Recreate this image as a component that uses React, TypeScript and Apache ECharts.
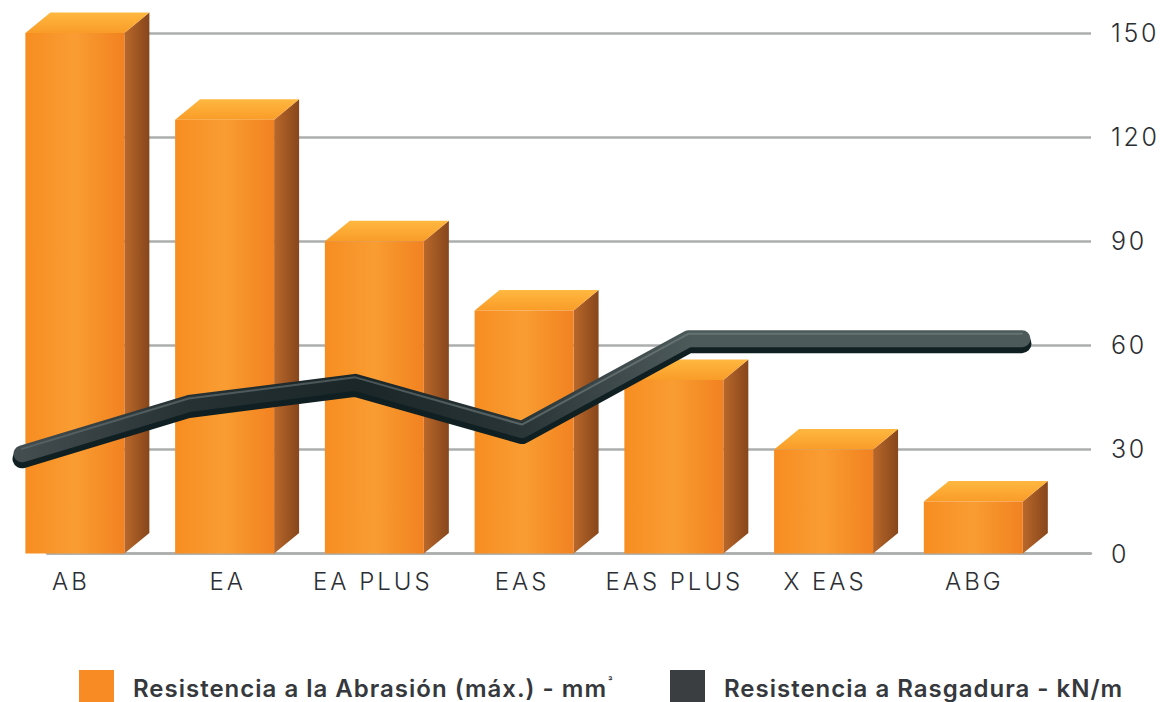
import React, { useEffect, useRef } from "react";
import * as echarts from "echarts";

const categories = ["AB", "EA", "EA PLUS", "EAS", "EAS PLUS", "X EAS", "ABG"];
const abrasion = [150, 125, 90, 70, 50, 30, 15];
const tear = [28, 42.5, 48.6, 35, 61.2, 61.2, 61.2];
const yTicks = { min: 0, max: 150, interval: 30 };
const abrasionName = "Resistencia a la Abrasión (máx.) - mm";
const tearName = "Resistencia a Rasgadura - kN/m";
const labelShift = [-4, 3, -1.5, -2, 0.5, 1.5, 1];

const TOP = 33;
const HEIGHT = 520.5;
const DX = 25;
const DY = 20.5;
const font = "Inter";

const grad = (x2: number, y2: number, stops: [number, string][]) => ({
  type: "linear",
  x: 0,
  y: 0,
  x2,
  y2,
  colorStops: stops.map(([offset, color]) => ({ offset, color })),
});

const globalGrad = (stops: [number, string][]) => ({
  type: "linear",
  global: true,
  x: 22,
  y: 0,
  x2: 1022,
  y2: 0,
  colorStops: stops.map(([offset, color]) => ({ offset, color })),
});

function renderBar(params: any, api: any) {
  const i = api.value(0);
  const top = api.coord([i, api.value(1)]);
  const base = api.coord([i, 0]);
  const w = api.size([1, 0])[0] * 0.661;
  const l = top[0] - w / 2;
  const r = top[0] + w / 2;
  return {
    type: "group",
    children: [
      {
        type: "polygon",
        shape: { points: [[r, top[1]], [r + DX, top[1] - DY], [r + DX, base[1] - DY], [r, base[1]]] },
        style: { fill: grad(1, 0, [[0, "#B9682A"], [1, "#87461B"]]) },
      },
      {
        type: "polygon",
        shape: { points: [[l, top[1]], [l + DX, top[1] - DY], [r + DX, top[1] - DY], [r, top[1]]] },
        style: { fill: grad(0, 1, [[0, "#FFB840"], [1, "#F99C28"]]) },
      },
      {
        type: "rect",
        shape: { x: l, y: top[1], width: w, height: base[1] - top[1] },
        style: { fill: grad(1, 0, [[0, "#F78D21"], [0.5, "#F99D33"], [0.75, "#F58F27"], [1, "#F28222"]]) },
      },
    ],
  };
}

function renderLine(params: any, api: any) {
  if (params.dataIndex !== 0) return null;
  const pts = tear.map((v, i) => api.coord([i, v]));
  const off = (d: number) => pts.map((p: number[]) => [p[0], p[1] + d]);
  const base = { lineCap: "round", lineJoin: "round", fill: "none" };
  return {
    type: "group",
    children: [
      {
        type: "polyline",
        shape: { points: off(2.5) },
        style: { ...base, stroke: "#0F1F22", lineWidth: 19 },
      },
      {
        type: "polyline",
        shape: { points: off(-2.5) },
        style: {
          ...base,
          lineWidth: 17,
          stroke: globalGrad([[0, "#434C4E"], [0.17, "#263133"], [0.34, "#1B2628"], [0.5, "#2A3537"], [0.67, "#4D5A5A"], [1, "#4D5A5A"]]),
        },
      },
      {
        type: "polyline",
        shape: { points: off(-7.5) },
        style: {
          ...base,
          lineWidth: 2,
          stroke: globalGrad([[0, "#566163"], [0.34, "#4A5557"], [0.67, "#667171"], [1, "#667171"]]),
        },
      },
    ],
  };
}

export default function App() {
  const ref = useRef<HTMLDivElement>(null);
  useEffect(() => {
    const chart = echarts.init(ref.current!, null, { renderer: "svg" });
    const hiddenY = (gridIndex: number) => ({
      type: "value",
      gridIndex,
      ...yTicks,
      show: false,
    });
    const rich: any = {};
    labelShift.forEach((s, i) => {
      rich["s" + i] = {
        fontFamily: font,
        fontSize: 24,
        fontWeight: 300,
        color: "#2B2E33",
        padding: s < 0 ? [0, -2 * s, 0, 0] : [0, 0, 0, 2 * s],
      };
    });
    const legendBase = {
      top: 665,
      itemWidth: 35,
      itemHeight: 32,
      icon: "rect",
      textStyle: {
        fontFamily: font,
        fontSize: 24,
        fontWeight: 600,
        color: "#35383C",
        padding: [4, 0, 0, 14],
        rich: {
          sup: {
            fontFamily: font,
            fontSize: 10,
            fontWeight: 600,
            color: "#35383C",
            verticalAlign: "top",
            padding: [0, 0, 8, 38],
          },
        },
      },
    };
    chart.setOption({
      animation: false,
      legend: [
        { ...legendBase, left: 74, data: [abrasionName], formatter: (n: string) => `${n}{sup|³}` },
        { ...legendBase, left: 665, data: [tearName] },
      ],
      grid: [
        { left: 47, width: 1044, top: TOP, height: HEIGHT },
        { left: -0.4, width: 1048.6, top: TOP, height: HEIGHT },
        { left: 22, width: 1000, top: TOP, height: HEIGHT },
      ],
      xAxis: [
        {
          type: "category",
          gridIndex: 0,
          data: categories,
          axisLine: { show: true, lineStyle: { color: "#ACAEAE", width: 2.5 } },
          axisTick: { show: false },
          axisLabel: { show: false },
        },
        {
          type: "category",
          gridIndex: 1,
          data: categories,
          axisLine: { show: false },
          axisTick: { show: false },
          axisLabel: {
            margin: 16,
            interval: 0,
            formatter: (v: string) => `{s${categories.indexOf(v)}|${v}}`,
            rich,
          },
        },
        {
          type: "category",
          gridIndex: 2,
          data: categories,
          boundaryGap: false,
          show: false,
        },
      ],
      yAxis: [
        {
          type: "value",
          gridIndex: 0,
          position: "right",
          ...yTicks,
          axisLine: { show: false },
          axisTick: { show: false },
          splitLine: { show: true, lineStyle: { color: "#ACAEAE", width: 2.5 } },
          axisLabel: { margin: 20, fontFamily: font, fontSize: 25, fontWeight: 300, color: "#2B2E33" },
        },
        hiddenY(1),
        hiddenY(2),
      ],
      series: [
        {
          type: "custom",
          name: abrasionName,
          xAxisIndex: 1,
          yAxisIndex: 1,
          clip: false,
          itemStyle: { color: "#F98B25" },
          encode: { x: 0, y: 1 },
          data: abrasion.map((v, i) => [i, v]),
          renderItem: renderBar,
          z: 2,
        },
        {
          type: "custom",
          name: tearName,
          xAxisIndex: 2,
          yAxisIndex: 2,
          clip: false,
          itemStyle: { color: "#3A3E40" },
          encode: { x: 0, y: 1 },
          data: tear.map((v, i) => [i, v]),
          renderItem: renderLine,
          z: 3,
        },
      ],
    });
    ref.current!.querySelectorAll("text").forEach((t) => {
      const s = t.textContent || "";
      const isLegend = s.startsWith("Resistencia");
      const isTick = /^\d+$/.test(s);
      (t as SVGTextElement).style.letterSpacing = isLegend ? "1px" : isTick ? "2.7px" : "3px";
    });
    return () => chart.dispose();
  }, []);
  return (
    <div
      ref={ref}
      style={{ position: "fixed", left: 0, top: 0, width: 1163, height: 702, background: "#fff" }}
    />
  );
}
